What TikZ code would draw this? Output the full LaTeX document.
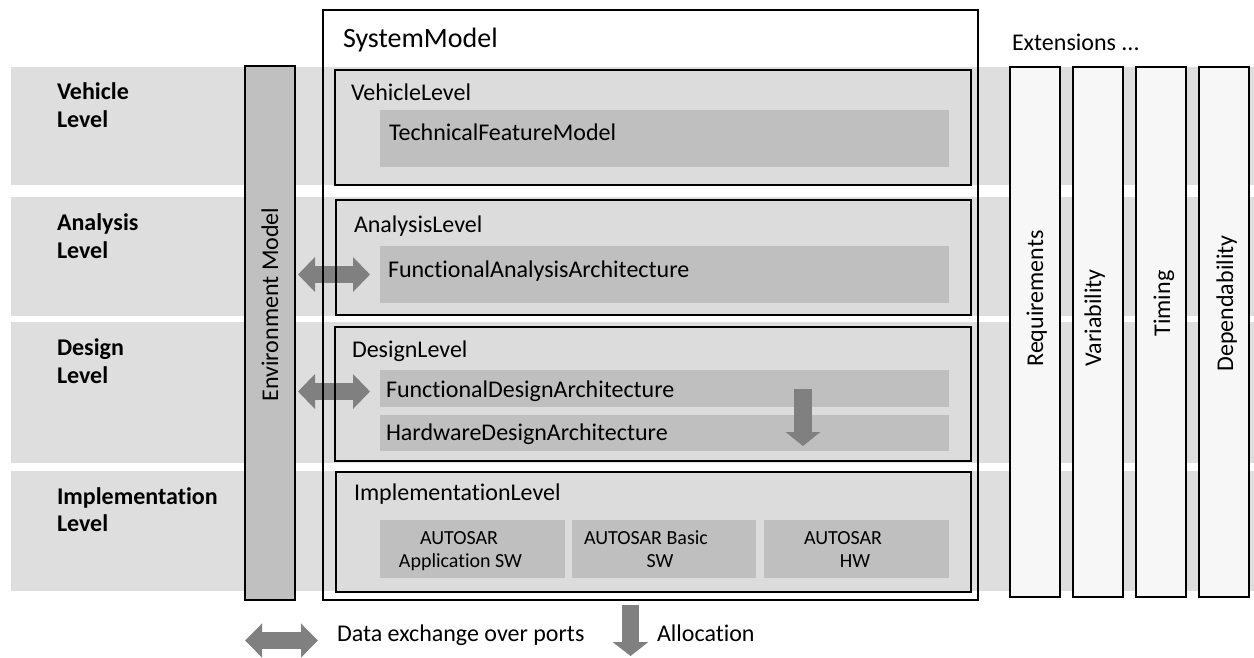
\documentclass[tikz,border=0pt]{standalone}
\usepackage{fontspec}
\setmainfont{Carlito}[Ligatures=CommonOff]
\usetikzlibrary{arrows.meta,calc}
\definecolor{bandgray}{HTML}{DEDEDE}
\definecolor{levelgray}{HTML}{DCDCDC}
\definecolor{innergray}{HTML}{BFBFBF}
\definecolor{envgray}{HTML}{C0C0C0}
\definecolor{extgray}{HTML}{F7F7F7}
\definecolor{arrowgray}{HTML}{808080}
\begin{document}
\begin{tikzpicture}[x=1pt,y=-1pt,
  bandfill/.style={fill=bandgray,draw=none},
  boxnode/.style={rectangle,inner sep=0pt,outer sep=0pt,anchor=north west},
  levelfill/.style={boxnode,fill=levelgray,draw=none},
  levelline/.style={draw=black,line width=2.8pt},
  sysline/.style={draw=black,line width=2.2pt},
  innerbox/.style={boxnode,fill=innergray,draw=none},
  envbox/.style={boxnode,fill=envgray,draw=black,line width=2.8pt},
  extbox/.style={boxnode,fill=extgray,draw=black,line width=2.8pt},
  txt/.style={inner sep=0pt,outer sep=0pt,anchor=base west,font=\fontsize{24}{29}\selectfont},
  bigtxt/.style={txt,font=\fontsize{28}{34}\selectfont},
  boldtxt/.style={txt,font=\fontsize{24}{29}\selectfont\bfseries},
  smalltxt/.style={inner sep=0pt,outer sep=0pt,anchor=base,font=\fontsize{20}{24}\selectfont},
  rottxt/.style={inner sep=0pt,outer sep=0pt,anchor=base,rotate=90,font=\fontsize{24}{29}\selectfont},
  dblarrow/.style={draw=arrowgray,line width=17pt,{Triangle[length=17pt,width=34pt]}-{Triangle[length=17pt,width=34pt]}},
  downarrow/.style={draw=arrowgray,line width=18pt,-{Triangle[length=14pt,width=34pt]}}
]
\useasboundingbox (0,0) rectangle (1254,657);

% level bands
\fill[bandfill] (11,67) rectangle (1254,185);
\fill[bandfill] (11,197) rectangle (1254,316);
\fill[bandfill] (11,322) rectangle (1254,463);
\fill[bandfill] (11,471) rectangle (1254,591);

% left labels
\node[boldtxt] (lv1) at (57,99) {Vehicle};
\node[boldtxt] (lv2) at (57,127) {Level};
\node[boldtxt] (la1) at (57,230) {Analysis};
\node[boldtxt] (la2) at (57,258) {Level};
\node[boldtxt] (ld1) at (57,355) {Design};
\node[boldtxt] (ld2) at (57,383) {Level};
\node[boldtxt] (li1) at (57,504) {Implementation};
\node[boldtxt] (li2) at (57,531) {Level};

% environment model
\node[envbox,minimum width=50pt,minimum height=534pt] (env) at (245,66) {};
\node[rottxt] (envt) at (278,304.5) {Environment Model};

% extension columns
\node[extbox,minimum width=50pt,minimum height=530pt] (req) at (1010,67) {};
\node[extbox,minimum width=50pt,minimum height=530pt] (var) at (1073,67) {};
\node[extbox,minimum width=50pt,minimum height=530pt] (tim) at (1136,67) {};
\node[extbox,minimum width=50pt,minimum height=530pt] (dep) at (1199,67) {};
\node[rottxt] (reqt) at (1043,298.5) {Requirements};
\node[rottxt] (vart) at (1101,318) {Variability};
\node[rottxt] (timt) at (1170,303.5) {Timing};
\node[rottxt] (dept) at (1233,303.5) {Dependability};
\node[txt] (extt) at (1012,50) {Extensions ...};

% system model
\node[boxnode,minimum width=655pt,minimum height=590pt] (sys) at (323,10) {};
\node[bigtxt] (syst) at (343,47) {SystemModel};

% level boxes (fill)
\node[levelfill,minimum width=636pt,minimum height=115pt] (vl) at (335,70) {};
\node[levelfill,minimum width=635pt,minimum height=115pt] (al) at (336,200) {};
\node[levelfill,minimum width=636pt,minimum height=134pt] (dl) at (335,327) {};
\node[levelfill,minimum width=635pt,minimum height=120pt] (il) at (336,472) {};

% inner boxes
\node[innerbox,minimum width=569pt,minimum height=57pt] (tf) at (380,110) {};
\node[innerbox,minimum width=569pt,minimum height=57pt] (fa) at (380,246) {};
\node[innerbox,minimum width=569pt,minimum height=37pt] (fd) at (380,370) {};
\node[innerbox,minimum width=569pt,minimum height=36pt] (hw) at (380,415) {};
\node[innerbox,minimum width=185pt,minimum height=58pt] (as1) at (380,520) {};
\node[innerbox,minimum width=184pt,minimum height=58pt] (as2) at (572,520) {};
\node[innerbox,minimum width=185pt,minimum height=58pt] (as3) at (764,520) {};

% texts in level boxes
\node[txt] (vlt) at (351,100) {VehicleLevel};
\node[txt] (tft) at (389,140) {TechnicalFeatureModel};
\node[txt] (alt) at (354,232) {AnalysisLevel};
\node[txt] (fat) at (388,277) {FunctionalAnalysisArchitecture};
\node[txt] (dlt) at (352,357) {DesignLevel};
\node[txt] (fdt) at (386,397) {FunctionalDesignArchitecture};
\node[txt] (hwt) at (386,440) {HardwareDesignArchitecture};
\node[txt] (ilt) at (354,500) {ImplementationLevel};
\node[smalltxt] (as1a) at (459,544) {AUTOSAR};
\node[smalltxt] (as1b) at (460.5,567) {Application SW};
\node[smalltxt] (as2a) at (646,544) {AUTOSAR Basic};
\node[smalltxt] (as2b) at (660,567) {SW};
\node[smalltxt] (as3a) at (843,544) {AUTOSAR};
\node[smalltxt] (as3b) at (855,567) {HW};

% arrows
\draw[dblarrow] ($(env.east |- fa.west)+(3,0)$) -- ($(fa.west)+(-10,0)$);
\draw[dblarrow] ($(env.east |- fd.west)+(3,3)$) -- ($(fd.west)+(-10,3)$);
\draw[downarrow] ($(fd.east)+(-146,0)$) -- ($(hw.south east)+(-146,-5)$);

% borders over arrows
\draw[levelline] (vl.north west) rectangle (vl.south east);
\draw[levelline] (al.north west) rectangle (al.south east);
\draw[levelline] (dl.north west) rectangle (dl.south east);
\draw[levelline] (il.north west) rectangle (il.south east);
\draw[sysline] (sys.north west) rectangle (sys.south east);

% legend
\coordinate (legA) at (245,640.5);
\coordinate (legB) at (318,640.5);
\draw[dblarrow,{Triangle[length=17pt,width=33pt]}-{Triangle[length=17pt,width=33pt]}] (legA) -- (legB);
\node[txt] (legt) at (337,641) {Data exchange over ports};
\coordinate (allocA) at (630.5,605);
\coordinate (allocB) at (630.5,656);
\draw[downarrow,line width=17pt,-{Triangle[length=14pt,width=35pt]}] (allocA) -- (allocB);
\node[txt] (alloct) at (657,641) {Allocation};
\end{tikzpicture}
\end{document}
